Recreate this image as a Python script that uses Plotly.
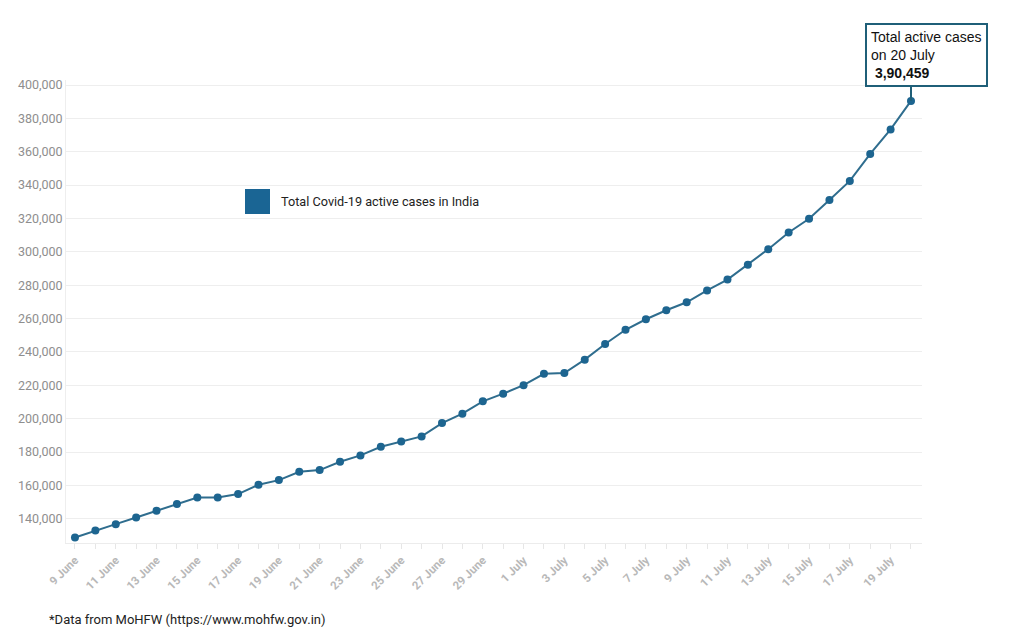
import plotly.graph_objects as go

dates = ["9 June", "10 June", "11 June", "12 June", "13 June", "14 June", "15 June", "16 June",
         "17 June", "18 June", "19 June", "20 June", "21 June", "22 June", "23 June", "24 June",
         "25 June", "26 June", "27 June", "28 June", "29 June", "30 June",
         "1 July", "2 July", "3 July", "4 July", "5 July", "6 July", "7 July", "8 July",
         "9 July", "10 July", "11 July", "12 July", "13 July", "14 July", "15 July", "16 July",
         "17 July", "18 July", "19 July", "20 July"]
active_cases = [128800, 133000, 136800, 140800, 144800, 148800, 152800, 152800,
                154800, 160400, 163200, 168200, 169200, 174200, 178000, 183200,
                186400, 189400, 197400, 203000, 210400, 215000,
                220100, 226900, 227400, 235400, 244800, 253300, 259600, 265000,
                269800, 276900, 283400, 292300, 301600, 311600, 319800, 331100,
                342500, 358700, 373400, 390459]
y_ticks = [140000, 160000, 180000, 200000, 220000, 240000, 260000, 280000,
           300000, 320000, 340000, 360000, 380000, 400000]
series_name = "Total Covid-19 active cases in India"
callout_text = "Total active cases<br>on 20 July<br> <b>3,90,459</b>"
source_text = "*Data from MoHFW (https://www.mohfw.gov.in)"

x_idx = list(range(len(dates)))
line_color = "#2f6d8e"
marker_color = "#1d6590"

fig = go.Figure()
fig.add_trace(go.Scatter(
    x=x_idx, y=active_cases, mode="lines+markers",
    line=dict(color=line_color, width=2),
    marker=dict(color=marker_color, size=8),
    name=series_name, showlegend=False,
))

last_i = x_idx[-1]
last_v = active_cases[-1]

fig.update_layout(
    width=1024, height=629,
    margin=dict(l=66, r=102, t=80, b=86),
    paper_bgcolor="white", plot_bgcolor="white",
    font=dict(family="Roboto, Liberation Sans, sans-serif"),
    xaxis=dict(
        range=[-0.44, len(dates) - 1 + 0.54],
        tickvals=x_idx[::2], ticktext=dates[::2],
        tickangle=-45,
        tickfont=dict(size=11.5, color="#b8b8b8", family="Roboto, sans-serif", weight="bold"),
        showgrid=False, zeroline=False,
        showline=True, linecolor="#ececec", linewidth=1,
        ticks="outside", ticklen=5, tickcolor="#e6e6e6",
        minor=dict(tickvals=x_idx, ticks="outside", ticklen=5, tickcolor="#e6e6e6"),
    ),
    yaxis=dict(
        range=[125500, 403000],
        tickvals=y_ticks, tickformat=",",
        tickfont=dict(size=12.5, color="#8e8e8e"),
        showgrid=True, gridcolor="#eeeeee", gridwidth=1,
        zeroline=False,
        showline=True, linecolor="#eeeeee", linewidth=1,
        ticks="", ticklen=0, ticklabelstandoff=0,
    ),
)

# legend swatch + label
fig.add_shape(type="rect", xref="paper", yref="paper",
              x0=(245 - 66) / 856, x1=(270 - 66) / 856,
              y0=(543 - 214) / 463, y1=(543 - 189) / 463,
              fillcolor="#1a6594", line=dict(width=0))
fig.add_annotation(xref="paper", yref="paper",
                   x=(279 - 66) / 856, y=(543 - 201.5) / 463,
                   xanchor="left", yanchor="middle", showarrow=False,
                   text=series_name, font=dict(size=12.7, color="#222222"))

# callout connector
fig.add_shape(type="line", xref="x", yref="y",
              x0=last_i, x1=last_i, y0=last_v, y1=last_v + 9000,
              line=dict(color="#1f5f78", width=2))
fig.add_annotation(xref="x", yref="y", x=last_i, y=last_v,
                   xanchor="left", yanchor="bottom", xshift=-46, yshift=14,
                   showarrow=False, align="left",
                   text=callout_text,
                   font=dict(size=14, color="#111111", family="Liberation Sans, Arial, sans-serif"),
                   bordercolor="#1f5f78", borderwidth=2, borderpad=4, bgcolor="white")

# source note
fig.add_annotation(xref="paper", yref="paper", x=(47 - 66) / 856, y=(543 - 619) / 463,
                   xanchor="left", yanchor="middle", showarrow=False,
                   text=source_text, font=dict(size=13, color="#222222"))

fig.write_html("out.html", config={"displayModeBar": False},
               post_script="document.body.style.margin='0';")
